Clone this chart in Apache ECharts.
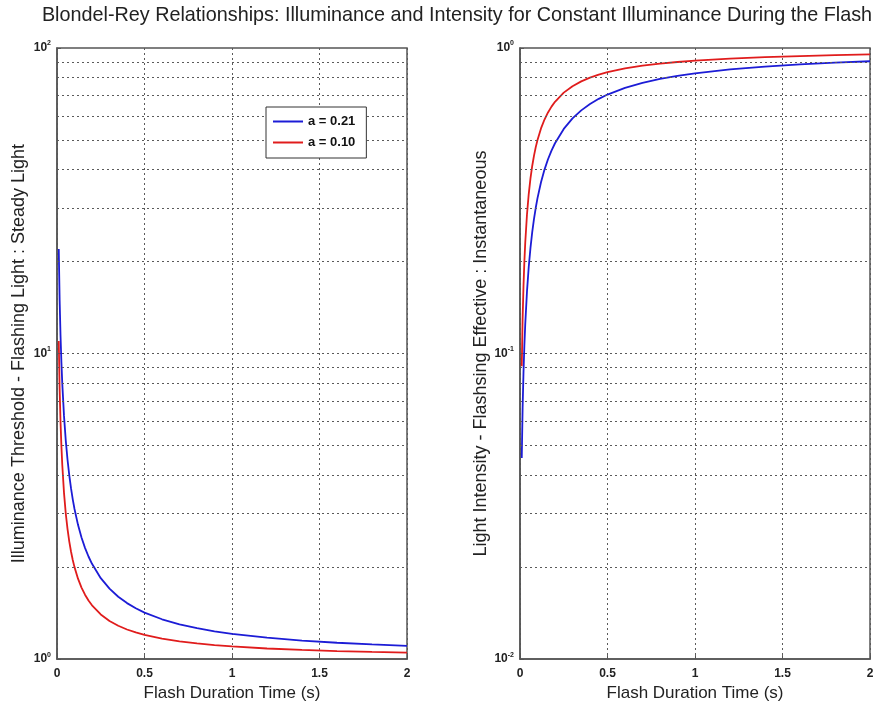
<!DOCTYPE html>
<html>
<head>
<meta charset="utf-8">
<script src="https://cdn.jsdelivr.net/npm/echarts@6/dist/echarts.min.js"></script>
<style>
html,body{margin:0;padding:0;background:#fff;}
#c{width:881px;height:707px;}
</style>
</head>
<body>
<div id="c"></div>
<script>
// ---- data ----
var flashTime = [0.01, 0.015, 0.02, 0.025, 0.03, 0.04, 0.05, 0.06, 0.07, 0.08, 0.09, 0.1, 0.12, 0.14, 0.16, 0.18, 0.2, 0.25, 0.3, 0.35, 0.4, 0.45, 0.5, 0.6, 0.7, 0.8, 0.9, 1.0, 1.2, 1.4, 1.6, 1.8, 2.0];
var thresholdA021 = [22.0, 15.0, 11.5, 9.4, 8.0, 6.25, 5.2, 4.5, 4.0, 3.625, 3.333, 3.1, 2.75, 2.5, 2.3125, 2.1667, 2.05, 1.84, 1.7, 1.6, 1.525, 1.4667, 1.42, 1.35, 1.3, 1.2625, 1.2333, 1.21, 1.175, 1.15, 1.1313, 1.1167, 1.105];
var thresholdA010 = [11.0, 7.667, 6.0, 5.0, 4.333, 3.5, 3.0, 2.667, 2.4286, 2.25, 2.1111, 2.0, 1.8333, 1.7143, 1.625, 1.5556, 1.5, 1.4, 1.3333, 1.2857, 1.25, 1.2222, 1.2, 1.1667, 1.1429, 1.125, 1.1111, 1.1, 1.0833, 1.0714, 1.0625, 1.0556, 1.05];
var intensityA021 = [0.0455, 0.0667, 0.087, 0.1064, 0.125, 0.16, 0.1923, 0.2222, 0.25, 0.2759, 0.3, 0.3226, 0.3636, 0.4, 0.4324, 0.4615, 0.4878, 0.5435, 0.5882, 0.625, 0.6557, 0.6818, 0.7042, 0.7407, 0.7692, 0.7921, 0.8108, 0.8264, 0.8511, 0.8696, 0.884, 0.8955, 0.905];
var intensityA010 = [0.0909, 0.1304, 0.1667, 0.2, 0.2308, 0.2857, 0.3333, 0.375, 0.4118, 0.4444, 0.4737, 0.5, 0.5455, 0.5833, 0.6154, 0.6429, 0.6667, 0.7143, 0.75, 0.7778, 0.8, 0.8182, 0.8333, 0.8571, 0.875, 0.8889, 0.9, 0.9091, 0.9231, 0.9333, 0.9412, 0.9474, 0.9524];
var seriesNames = ['a = 0.21', 'a = 0.10'];
var xTicks = [0, 0.5, 1, 1.5, 2];
var leftYTicks = [1, 10, 100];
var rightYTicks = [0.01, 0.1, 1];
var leftLogGrid = [2, 3, 4, 5, 6, 7, 8, 9, 10, 20, 30, 40, 50, 60, 70, 80, 90];
var rightLogGrid = [0.02, 0.03, 0.04, 0.05, 0.06, 0.07, 0.08, 0.09, 0.1, 0.2, 0.3, 0.4, 0.5, 0.6, 0.7, 0.8, 0.9];
var titleText = 'Blondel-Rey Relationships: Illuminance and Intensity for Constant Illuminance During the Flash';
var xName = 'Flash Duration Time (s)';
var leftYName = 'Illuminance Threshold - Flashing Light : Steady Light';
var rightYName = 'Light Intensity - Flashsing Effective : Instantaneous';

// ---- build ----
function pairs(xs, ys) { return xs.map(function (x, i) { return [x, ys[i]]; }); }
var FONT = '"Liberation Sans", Arial, Helvetica, sans-serif';
var BLUE = '#1c1cd6';
var RED = '#e01c1c';
var GRIDC = '#5a5a5a';
var AXISC = '#555555';

function gridMarks(vals) {
  return {
    silent: true, symbol: 'none', animation: false,
    label: { show: false },
    lineStyle: { color: GRIDC, type: [2, 3], width: 1 },
    emphasis: { disabled: true },
    data: vals.map(function (v) { return { yAxis: v }; })
  };
}
function expFmt(v) {
  var e = Math.round(Math.log10(v));
  return '{b|10}{s|' + e + '}';
}
var richLab = {
  b: { fontSize: 12, fontWeight: 'bold', color: '#222', fontFamily: FONT },
  s: { fontSize: 7, fontWeight: 'bold', color: '#222', fontFamily: FONT, padding: [0, 0, 9, 0] }
};

function xAxisDef(gi) {
  return {
    type: 'value', gridIndex: gi, min: 0, max: 2, interval: 0.5,
    name: xName, nameLocation: 'middle', nameGap: 21,
    nameTextStyle: { fontSize: 17, color: '#222', fontFamily: FONT },
    axisLine: { lineStyle: { color: AXISC, width: 1.5 } },
    axisTick: { inside: true, length: 4, lineStyle: { color: AXISC } },
    axisLabel: {
      margin: 9, fontSize: 12, fontWeight: 'bold', color: '#222', fontFamily: FONT,
      customValues: xTicks,
      formatter: function (v) { return String(v); }
    },
    splitLine: { show: true, lineStyle: { color: GRIDC, type: [2, 3], width: 1 } }
  };
}
function yAxisDef(gi, lo, hi, name, gap) {
  return {
    type: 'log', logBase: 10, gridIndex: gi, min: lo, max: hi,
    name: name, nameLocation: 'middle', nameGap: gap,
    nameTextStyle: { fontSize: 18, color: '#222', fontFamily: FONT },
    axisLine: { lineStyle: { color: AXISC, width: 1.5 } },
    axisTick: { inside: true, length: 4, lineStyle: { color: AXISC } },
    axisLabel: { margin: 6, formatter: expFmt, rich: richLab },
    splitLine: { show: false }
  };
}
function lineSeries(name, xi, data, color, extra) {
  var s = {
    name: name, type: 'line', xAxisIndex: xi, yAxisIndex: xi, data: data,
    symbol: 'none', smooth: false, lineStyle: { color: color, width: 1.8 },
    itemStyle: { color: color }, z: 3
  };
  if (extra) s.markLine = extra;
  return s;
}

var option = {
  animation: false,
  backgroundColor: '#ffffff',
  title: {
    text: titleText, left: 457, top: 6, textAlign: 'center', padding: 0,
    textStyle: { fontSize: 19.8, fontWeight: 'normal', color: '#222', fontFamily: FONT }
  },
  legend: {
    data: seriesNames, orient: 'vertical', left: 266, top: 107, z: 20,
    icon: 'rect', itemWidth: 30, itemHeight: 2,
    padding: [7, 11, 8, 7], itemGap: 6,
    backgroundColor: '#ffffff', borderColor: '#333', borderWidth: 1, borderRadius: 0,
    textStyle: { fontSize: 13, fontWeight: 'bold', color: '#111', fontFamily: FONT, lineHeight: 15 },
    selectedMode: false
  },
  grid: [
    { left: 57, top: 48, width: 350, height: 616, show: true, borderColor: AXISC, borderWidth: 1.5, backgroundColor: 'transparent' },
    { left: 520, top: 48, width: 350, height: 617, show: true, borderColor: AXISC, borderWidth: 1.5, backgroundColor: 'transparent' }
  ],
  xAxis: [xAxisDef(0), xAxisDef(1)],
  yAxis: [
    yAxisDef(0, leftYTicks[0], leftYTicks[2], leftYName, 29),
    yAxisDef(1, rightYTicks[0], rightYTicks[2], rightYName, 25)
  ],
  series: [
    lineSeries(seriesNames[0], 0, pairs(flashTime, thresholdA021), BLUE, gridMarks(leftLogGrid)),
    lineSeries(seriesNames[1], 0, pairs(flashTime, thresholdA010), RED),
    lineSeries(seriesNames[0], 1, pairs(flashTime, intensityA021), BLUE, gridMarks(rightLogGrid)),
    lineSeries(seriesNames[1], 1, pairs(flashTime, intensityA010), RED)
  ]
};
var chart = echarts.init(document.getElementById('c'), null, { renderer: 'canvas' });
chart.setOption(option);
</script>
</body>
</html>
